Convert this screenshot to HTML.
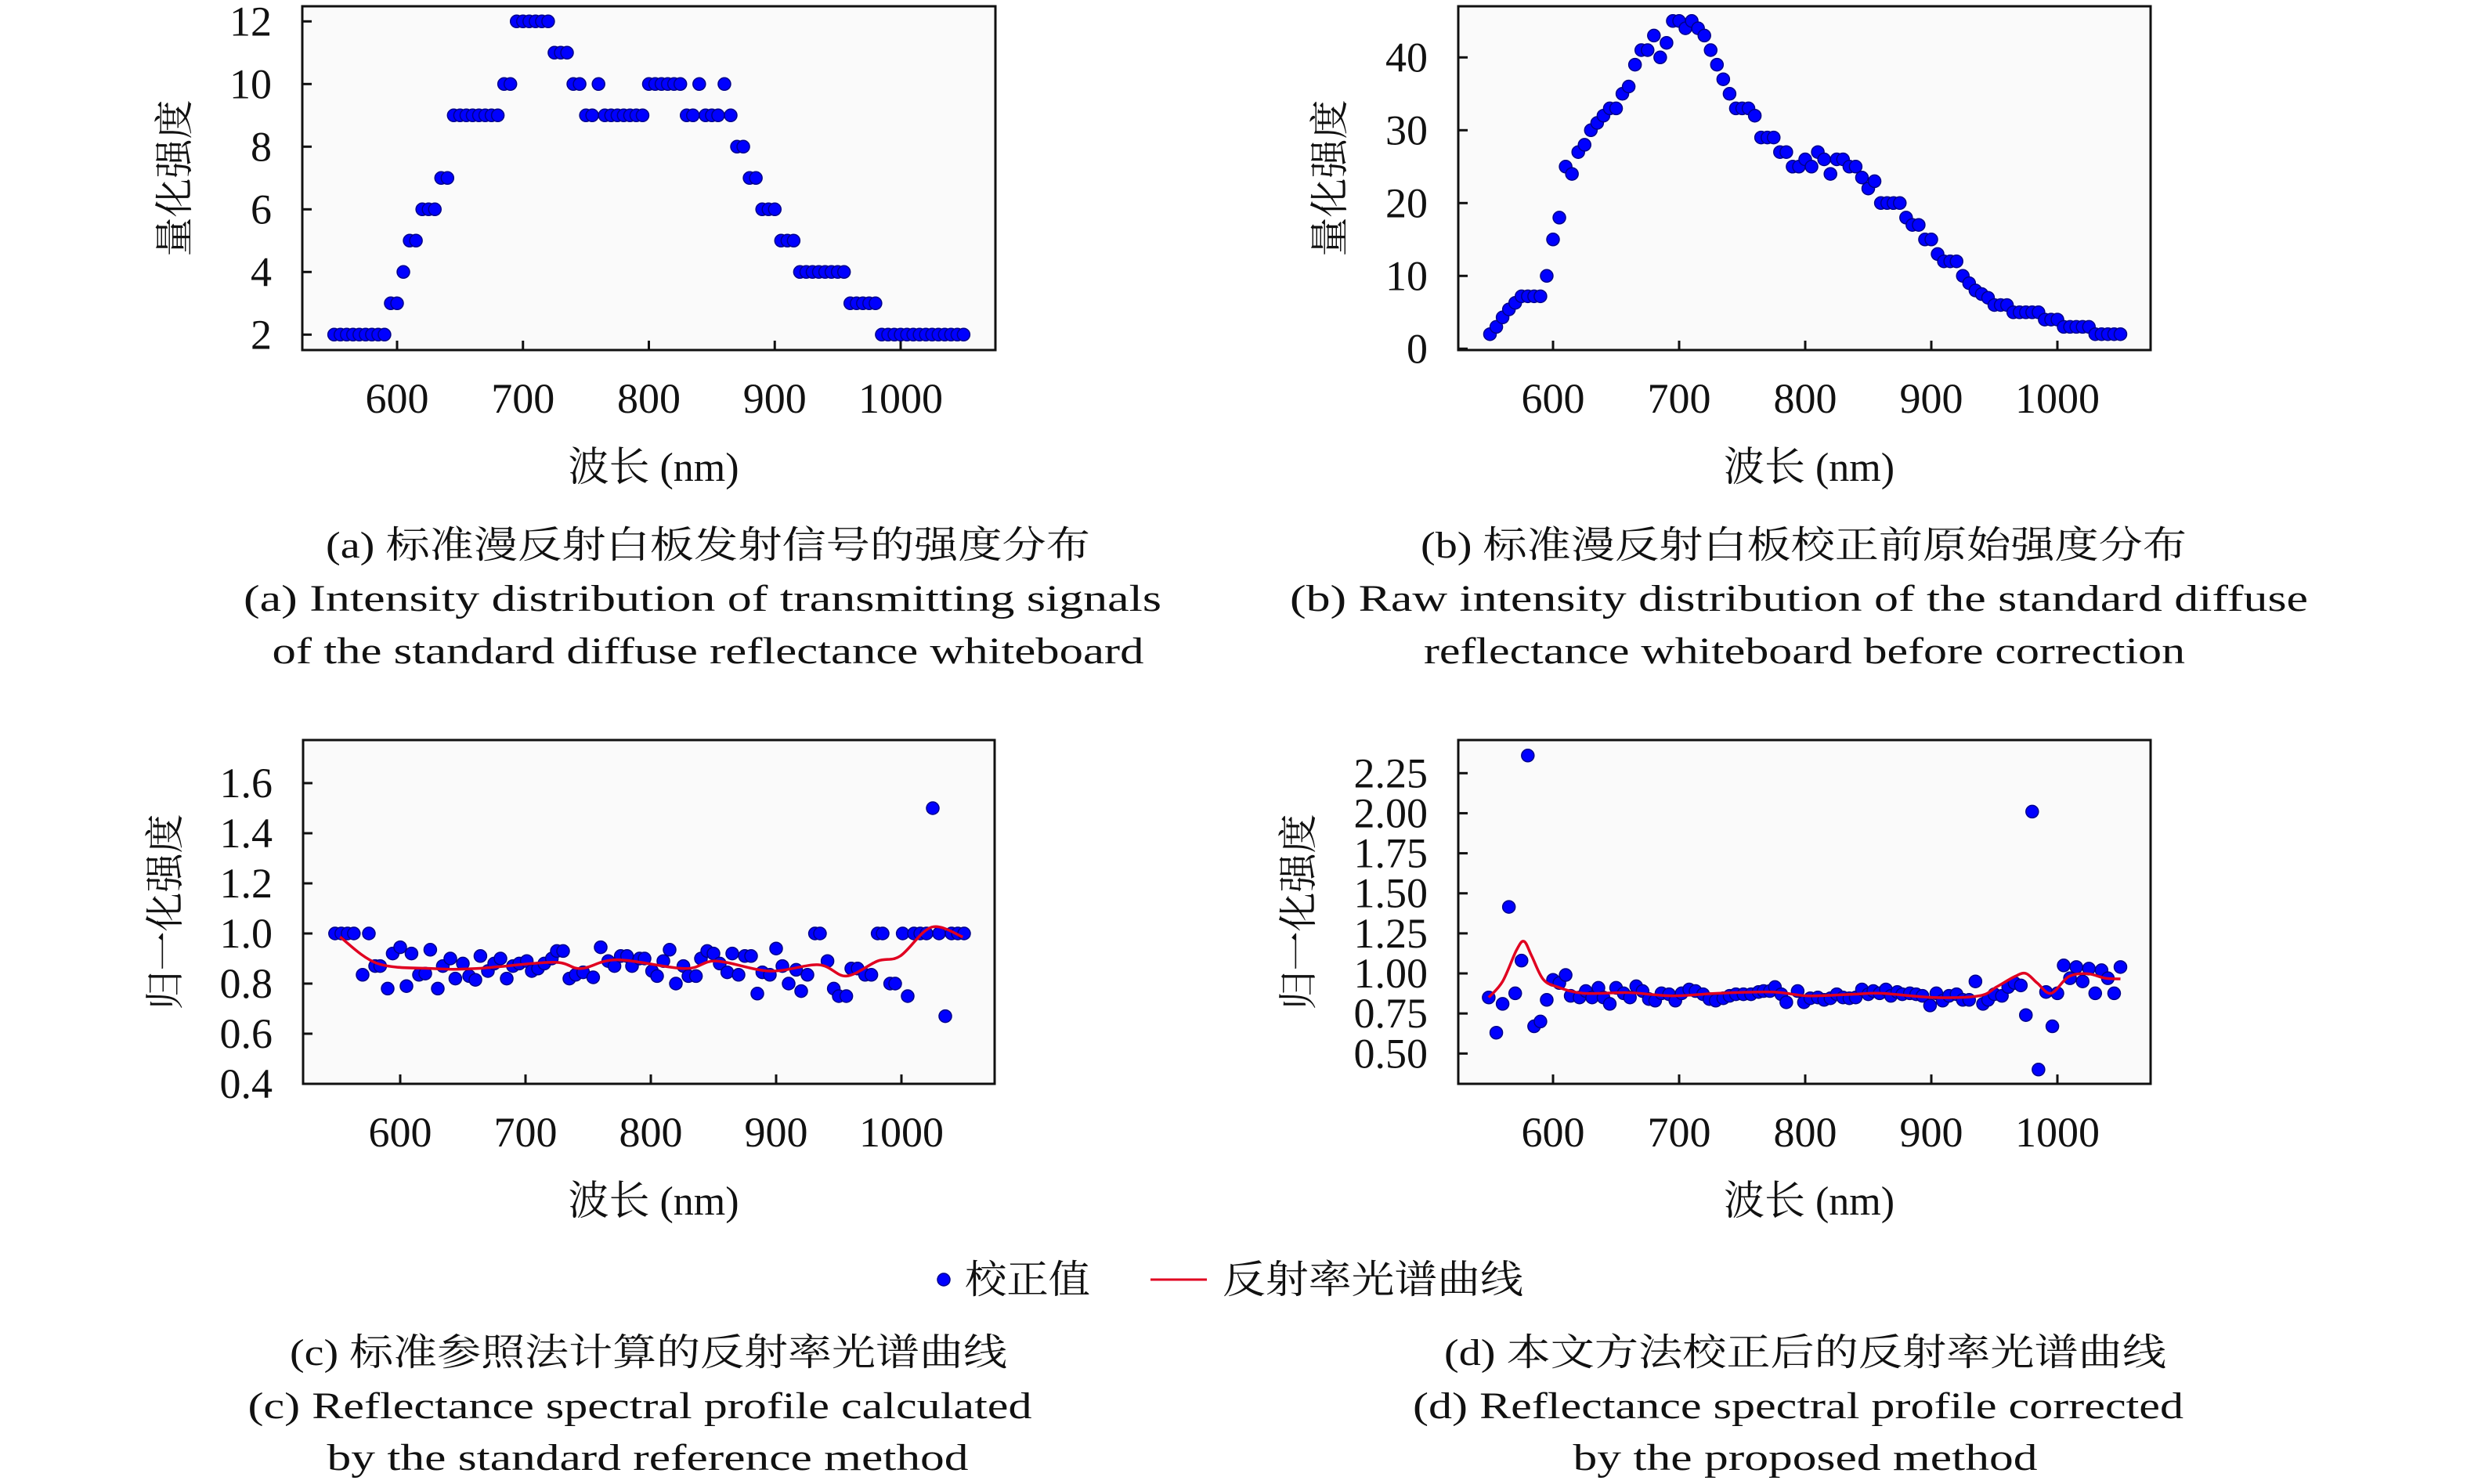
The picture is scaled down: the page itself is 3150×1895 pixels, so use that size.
<!DOCTYPE html>
<html><head><meta charset="utf-8">
<style>
html,body{margin:0;padding:0;background:#fff;}
svg{display:block;}
text{font-family:"Liberation Serif","Noto Serif CJK SC",serif;fill:#111;}
</style></head>
<body>
<svg id="fig" width="3150" height="1895" viewBox="0 0 3150 1895" xmlns="http://www.w3.org/2000/svg">
<g id="layer"></g>
<g font-size="48">
<text x="904" y="712" text-anchor="middle" textLength="976" lengthAdjust="spacingAndGlyphs">(a) 标准漫反射白板发射信号的强度分布</text>
<text x="897" y="780" text-anchor="middle" textLength="1172" lengthAdjust="spacingAndGlyphs">(a) Intensity distribution of transmitting signals</text>
<text x="904" y="847" text-anchor="middle" textLength="1113" lengthAdjust="spacingAndGlyphs">of the standard diffuse reflectance whiteboard</text>
<text x="2303" y="712" text-anchor="middle" textLength="978" lengthAdjust="spacingAndGlyphs">(b) 标准漫反射白板校正前原始强度分布</text>
<text x="2297" y="780" text-anchor="middle" textLength="1300" lengthAdjust="spacingAndGlyphs">(b) Raw intensity distribution of the standard diffuse</text>
<text x="2304" y="847" text-anchor="middle" textLength="972" lengthAdjust="spacingAndGlyphs">reflectance whiteboard before correction</text>
<text x="828" y="1743" text-anchor="middle" textLength="916" lengthAdjust="spacingAndGlyphs">(c) 标准参照法计算的反射率光谱曲线</text>
<text x="817" y="1811" text-anchor="middle" textLength="1001" lengthAdjust="spacingAndGlyphs">(c) Reflectance spectral profile calculated</text>
<text x="827" y="1877" text-anchor="middle" textLength="819" lengthAdjust="spacingAndGlyphs">by the standard reference method</text>
<text x="2305" y="1743" text-anchor="middle" textLength="922" lengthAdjust="spacingAndGlyphs">(d) 本文方法校正后的反射率光谱曲线</text>
<text x="2296" y="1811" text-anchor="middle" textLength="984" lengthAdjust="spacingAndGlyphs">(d) Reflectance spectral profile corrected</text>
<text x="2305" y="1877" text-anchor="middle" textLength="593" lengthAdjust="spacingAndGlyphs">by the proposed method</text>
</g>
<g>
<circle cx="1205" cy="1634" r="8" fill="#0000ff" stroke="#00008b" stroke-width="1.5"/>
<text x="1232" y="1651" font-size="50" textLength="160" lengthAdjust="spacingAndGlyphs">校正值</text>
<line x1="1469" y1="1634" x2="1541" y2="1634" stroke="#e00020" stroke-width="3"/>
<text x="1561" y="1651" font-size="50" textLength="384" lengthAdjust="spacingAndGlyphs">反射率光谱曲线</text>
</g>
</svg>
<script>
// ---------- data ----------
const wlAB = [550,555,560,565,570,575,580,585,590,595,600,605,610,615,620,625,630,635,640,645,650,655,660,665,670,675,680,685,690,695,700,705,710,715,720,725,730,735,740,745,750,755,760,765,770,775,780,785,790,795,800,805,810,815,820,825,830,835,840,845,850,855,860,865,870,875,880,885,890,895,900,905,910,915,920,925,930,935,940,945,950,955,960,965,970,975,980,985,990,995,1000,1005,1010,1015,1020,1025,1030,1035,1040,1045,1050];
const valsA = [2,2,2,2,2,2,2,2,2,3, 3,4,5,5,6,6,6,7,7,9, 9,9,9,9,9,9,9,10,10,12, 12,12,12,12,12,11,11,11,10,10, 9,9,10,9,9,9,9,9,9,9, 10,10,10,10,10,10,9,9,10,9, 9,9,10,9,8,8,7,7,6,6, 6,5,5,5,4,4,4,4,4,4, 4,4,3,3,3,3,3,2,2,2, 2,2,2,2,2,2,2,2,2,2, 2];
const valsB = [2,3,4.3,5.4,6.3,7.2,7.2,7.2,7.2,10, 15,18,25,24,27,28,30,31,32,33, 33,35,36,39,41,41,43,40,42,45, 45,44,45,44,43,41,39,37,35,33, 33,33,32,29,29,29,27,27,25,25, 26,25,27,26,24,26,26,25,25,23.5, 22,23,20,20,20,20,18,17,17,15, 15,13,12,12,12,10,9,8,7.5,7, 6,6,6,5,5,5,5,5,4,4, 4,3,3,3,3,3,2,2,2,2, 2];
const wlC = [548,553,558,563,570,575,580,584,590,594,600,605,609,615,620,624,630,634,640,644,650,655,660,664,670,675,680,685,690,695,701,705,710,715,721,725,730,735,740,746,754,760,766,771,776,781,785,791,795,801,805,810,815,820,826,830,836,840,845,850,855,861,865,870,875,880,885,889,895,900,905,910,916,920,925,931,935,941,946,950,956,960,965,971,976,981,985,991,995,1001,1005,1010,1015,1020,1025,1030,1035,1040,1045,1050];
const valsC = [1.0,1.0,1.0,1.0,0.835,1.0,0.87,0.87,0.78,0.92,0.945,0.79,0.92,0.835,0.84,0.935,0.78,0.87,0.9,0.82,0.88,0.83,0.815,0.91,0.85,0.88,0.9,0.82,0.87,0.88,0.89,0.85,0.86,0.88,0.9,0.93,0.93,0.82,0.835,0.845,0.825,0.945,0.89,0.87,0.91,0.91,0.87,0.9,0.9,0.85,0.83,0.89,0.935,0.8,0.87,0.83,0.83,0.9,0.93,0.92,0.88,0.845,0.92,0.835,0.91,0.91,0.76,0.845,0.835,0.94,0.87,0.8,0.855,0.77,0.835,1.0,1.0,0.89,0.78,0.75,0.75,0.86,0.86,0.835,0.835,1.0,1.0,0.8,0.8,1.0,0.75,1.0,1.0,1.0,1.5,1.0,0.67,1.0,1.0,1.0];
const fitWlC = [552,582,625,661,722,744,773,827,852,895,934,956,981,999,1024,1049];
const fitC = [0.986,0.88,0.86,0.86,0.885,0.86,0.895,0.86,0.89,0.85,0.875,0.83,0.89,0.91,1.025,0.986];
const wlD = [549,555,560,565,570,575,580,585,590,595,600,605,610,614,621,626,631,636,640,645,650,656,661,666,671,676,681,686,692,697,702,708,713,719,724,729,735,740,745,751,757,763,767,772,776,781,785,794,799,804,810,815,820,825,830,835,840,845,850,854,859,864,868,873,877,883,888,893,899,904,909,914,920,925,930,935,941,945,950,956,961,966,971,975,980,985,991,996,1000,1005,1010,1015,1020,1025,1030,1035,1040,1045,1050];
const valsD = [0.85,0.63,0.81,1.415,0.876,1.08,2.36,0.67,0.70,0.835,0.96,0.94,0.99,0.86,0.85,0.89,0.85,0.91,0.85,0.81,0.91,0.876,0.85,0.92,0.89,0.84,0.83,0.876,0.87,0.83,0.876,0.9,0.89,0.87,0.84,0.83,0.845,0.86,0.87,0.87,0.87,0.884,0.89,0.89,0.915,0.87,0.82,0.89,0.82,0.845,0.85,0.835,0.845,0.87,0.85,0.845,0.85,0.9,0.87,0.89,0.876,0.9,0.86,0.884,0.87,0.876,0.87,0.86,0.80,0.876,0.83,0.86,0.87,0.835,0.835,0.95,0.81,0.835,0.87,0.86,0.915,0.94,0.925,0.74,2.01,0.40,0.884,0.67,0.876,1.05,0.97,1.04,0.95,1.03,0.876,1.02,0.97,0.876,1.04];
const fitWlD = [549,560,571,577,583,592,603,624,660,695,731,774,802,838,860,902,938,952,966,975,984,995,1009,1024,1038,1050];
const fitD = [0.85,0.95,1.145,1.2,1.11,0.965,0.917,0.876,0.88,0.86,0.876,0.884,0.86,0.87,0.876,0.85,0.86,0.917,0.98,1.0,0.94,0.876,0.98,0.998,0.97,0.966];
const ticksA = [2,4,6,8,10,12];
const ticksB = [0,10,20,30,40];
const ticksC = [0.4,0.6,0.8,1.0,1.2,1.4,1.6];
const ticksCLabels = ["0.4","0.6","0.8","1.0","1.2","1.4","1.6"];
const ticksD = [0.5,0.75,1.0,1.25,1.5,1.75,2.0,2.25];
const ticksDLabels = ["0.50","0.75","1.00","1.25","1.50","1.75","2.00","2.25"];
const xTicks = [600,700,800,900,1000];
const xTickLabels = ["600","700","800","900","1000"];

// ---------- drawing ----------
const NS = "http://www.w3.org/2000/svg";
const layer = document.getElementById("layer");
function mk(tag, attrs, parent){
  const e = document.createElementNS(NS, tag);
  for (const k in attrs) e.setAttribute(k, attrs[k]);
  (parent||layer).appendChild(e);
  return e;
}
function panel(cfg){
  const g = mk("g", {});
  
  
  const sx = v => cfg.x600 + (v-600)*(cfg.x1000-cfg.x600)/400;
  const sy = v => cfg.y0px + (v-cfg.y0)*(cfg.y1px-cfg.y0px)/(cfg.y1-cfg.y0);
  const frame = mk("rect", {x:cfg.L, y:cfg.T, width:cfg.R-cfg.L, height:cfg.B-cfg.T, fill:"#fafafa", stroke:"#111", "stroke-width":3}, g);
  
  
  xTicks.forEach((t,i)=>{
    const x = sx(t);
    const tk = mk("line", {x1:x, x2:x, y1:cfg.B, y2:cfg.B-12, stroke:"#111", "stroke-width":3}, g);
    
    
    const lb = mk("text", {x:x, y:cfg.B+80, "text-anchor":"middle", "font-size":54}, g);
    lb.textContent = xTickLabels[i];
    
    
  });
  cfg.yt.forEach((t,i)=>{
    const y = sy(t);
    const tk = mk("line", {x1:cfg.L, x2:cfg.L+12, y1:y, y2:y, stroke:"#111", "stroke-width":3}, g);
    
    
    const lb = mk("text", {x:cfg.L-39, y:y+18, "text-anchor":"end", "font-size":54}, g);
    lb.textContent = cfg.ytl[i];
    
    
  });
  const xt = mk("text", {x:(cfg.L+cfg.R)/2 + 6, y:cfg.B+167, "text-anchor":"middle", "font-size":52}, g);
  xt.textContent = "波长 (nm)";
  
  
  const yc = (cfg.T+cfg.B)/2;
  const yt = mk("text", {x:cfg.ytx, y:yc, "text-anchor":"middle", "font-size":50, transform:`rotate(-90 ${cfg.ytx} ${yc})`}, g);
  yt.textContent = cfg.ytitle;
  
  
  let curve = null;
  if (cfg.fx){
    const P = cfg.fx.map((w,i)=>[sx(w), sy(cfg.fy[i])]);
    let d = `M${P[0][0]},${P[0][1]}`;
    for (let i=0;i<P.length-1;i++){
      const p0=P[Math.max(0,i-1)], p1=P[i], p2=P[i+1], p3=P[Math.min(P.length-1,i+2)];
      const c1=[p1[0]+(p2[0]-p0[0])/6, p1[1]+(p2[1]-p0[1])/6];
      const c2=[p2[0]-(p3[0]-p1[0])/6, p2[1]-(p3[1]-p1[1])/6];
      d += ` C${c1[0]},${c1[1]} ${c2[0]},${c2[1]} ${p2[0]},${p2[1]}`;
    }
    curve = mk("path", {d:d, fill:"none", stroke:"#e00020", "stroke-width":3.5}, g);
    
    
  }
  cfg.px.forEach((w,i)=>{
    const c = mk("circle", {cx:sx(w), cy:sy(cfg.py[i]), r:8, fill:"#0000ff", stroke:"#00008b", "stroke-width":1.5}, g);
    
    
  });
  if (curve) g.appendChild(curve);
}
panel({name:"panel-a", L:386, R:1271, T:8, B:447, x600:507, x1000:1150, y0:2, y0px:427.3, y1:12, y1px:27.3,
  yt:ticksA, ytl:ticksA.map(String), ytitle:"量化强度", ytx:240, px:wlAB, py:valsA});
panel({name:"panel-b", L:1862, R:2746, T:8, B:447, x600:1983, x1000:2627, y0:0, y0px:445.3, y1:40, y1px:73.3,
  yt:ticksB, ytl:ticksB.map(String), ytitle:"量化强度", ytx:1715, px:wlAB, py:valsB});
panel({name:"panel-c", L:387, R:1270, T:945, B:1384, x600:511, x1000:1151, y0:0.4, y0px:1384, y1:1.6, y1px:1000,
  yt:ticksC, ytl:ticksCLabels, ytitle:"归一化强度", ytx:228, px:wlC, py:valsC, fx:fitWlC, fy:fitC});
panel({name:"panel-d", L:1862, R:2746, T:945, B:1384, x600:1983, x1000:2627, y0:0.5, y0px:1345.3, y1:2.25, y1px:987.3,
  yt:ticksD, ytl:ticksDLabels, ytitle:"归一化强度", ytx:1675, px:wlD, py:valsD, fx:fitWlD, fy:fitD});
</script>
</body></html>
